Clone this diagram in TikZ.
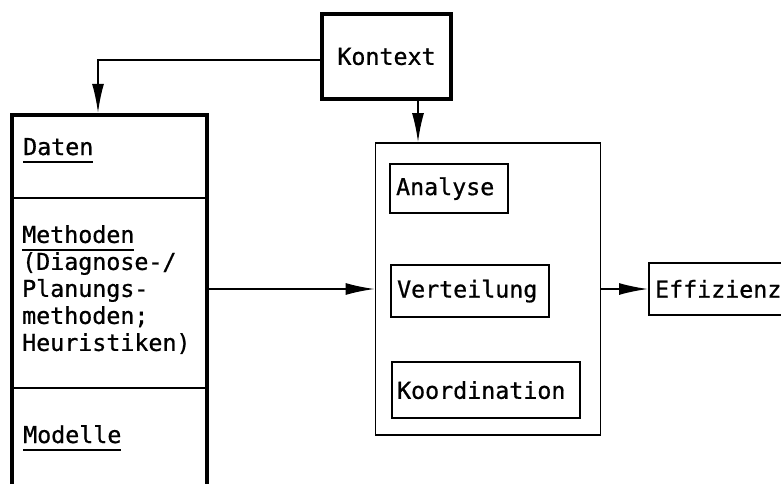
\documentclass[tikz,border=0pt]{standalone}
\usepackage{fontspec}
\usetikzlibrary{arrows.meta,calc}
\newfontfamily\diafont{DejaVu Sans Mono}[FakeBold=0.8]
\newcommand\myul[1]{\setbox0\hbox{#1}\rlap{\rule[-8pt]{\wd0}{1.8pt}}\box0}
\begin{document}
\begin{tikzpicture}[x=1pt,y=-1pt,
  txt/.style={font=\diafont\fontsize{23.3}{27}\selectfont, inner sep=0pt},
  thickbox/.style={draw, line width=4.4pt, rectangle, inner sep=0pt},
  thinbox/.style={draw, line width=1.8pt, rectangle, inner sep=0pt},
  innerbox/.style={draw, line width=2.2pt, rectangle, inner sep=0pt, anchor=north west},
  conn/.style={line width=1.7pt},
  arr/.style={conn, -{Latex[length=29pt,width=12pt]}}]
\useasboundingbox (0,0) rectangle (781,484);
\fill[white] (0,0) rectangle (781,484);
% Kontext
\node[thickbox, txt, minimum width=129pt, minimum height=85pt] (kontext) at (386.5,56.5) {Kontext};
% left store box (bottom edge lies below the picture)
\node[thickbox, minimum width=195pt, minimum height=377pt] (store) at (109.5,303.5) {};
\coordinate (d1l) at (12,198); \coordinate (d1r) at (207,198);
\coordinate (d2l) at (12,388); \coordinate (d2r) at (207,388);
\draw[conn] (d1l) -- (d1r);
\draw[conn] (d2l) -- (d2r);
\node[txt, anchor=base west] (daten) at (23,155) {\myul{Daten}};
\node[txt, anchor=north west, align=left] (methoden) at (22,225) {\myul{Methoden}\\(Diagnose-/\\Planungs-\\methoden;\\Heuristiken)};
\node[txt, anchor=base west] (modelle) at (23,443) {\myul{Modelle}};
% middle box
\node[thinbox, minimum width=225pt, minimum height=292pt] (mid) at (488,289) {};
\node[innerbox, txt, minimum width=118pt, minimum height=49pt, text width=118pt, align=left] (analyse) at (389,163) {\hspace{6pt}Analyse};
\node[innerbox, txt, minimum width=158pt, minimum height=52pt, text width=158pt, align=left] (verteil) at (390,264) {\hspace{6pt}Verteilung};
\node[innerbox, txt, minimum width=188pt, minimum height=56pt, text width=188pt, align=left] (koord) at (391,361) {\hspace{5pt}Koordination};
% Effizienz (right edge outside the picture)
\node[thinbox, line width=2.2pt, txt, minimum height=52pt, text width=150pt, align=left, anchor=west] (eff) at (648,289) {\hspace{6pt}Effizienz};
% connectors
\coordinate (kbend) at (98,60);
\coordinate (kdown) at (418,100);
\draw[arr] (kontext.west |- kbend) -- (kbend) -- (kbend |- store.north);
\draw[arr] (kdown) -- (kdown |- mid.north);
\draw[arr] (store.east |- mid.west) -- (mid.west);
\draw[arr] (mid.east) -- (eff.west);
\end{tikzpicture}
\end{document}
